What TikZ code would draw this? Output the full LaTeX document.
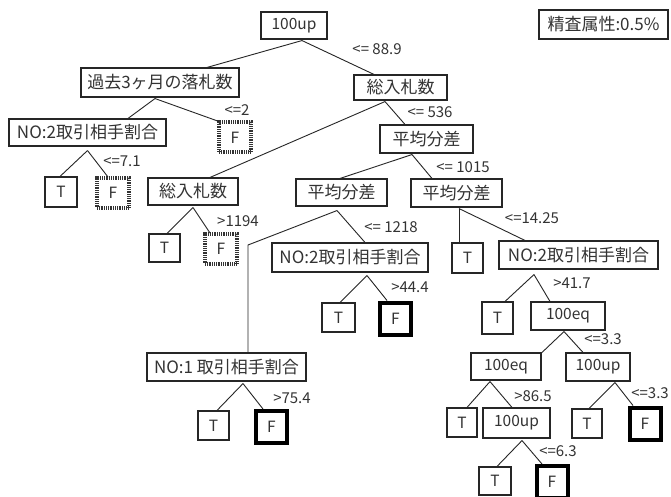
\documentclass[tikz,border=0pt]{standalone}
\usepackage{fontspec}
\setmainfont{Noto Sans CJK JP}
\begin{document}
\begin{tikzpicture}[x=1pt,y=-1pt,
  box/.style={draw=black!85, line width=1.1pt, inner sep=0pt, text=black!80,
    font=\fontsize{15.5}{16}\selectfont},
  cjk/.style={box, font=\fontsize{17}{17}\selectfont},
  fbold/.style={draw=black, line width=4pt, inner sep=0pt, text=black!80,
    font=\fontsize{15.5}{16}\selectfont, minimum width=31pt, minimum height=32pt},
  fhatch/.style={draw=black!80, line width=4pt, dash pattern=on 0.9pt off 0.9pt,
    inner sep=0pt, text=black!80, font=\fontsize{15.5}{16}\selectfont,
    minimum width=32pt, minimum height=30pt},
  edge/.style={draw=black!85, line width=0.9pt},
  lab/.style={inner sep=0pt, text=black!80, font=\fontsize{15}{15}\selectfont}]
\useasboundingbox[fill=white] (0,0) rectangle (671,497);

% nodes
\node[box, minimum width=66pt, minimum height=27pt] (root) at (294,25.5) {100up};
\node[cjk, minimum width=129pt, minimum height=29pt] (info) at (603.5,24.5) {精査属性:0.5\%};
\node[cjk, minimum width=158pt, minimum height=29pt] (A) at (160,82.5) {過去3ヶ月の落札数};
\node[cjk, minimum width=93pt, minimum height=25pt] (B) at (400.5,87.5) {総入札数};
\node[cjk, minimum width=157pt, minimum height=27pt] (A1) at (87.5,132.5) {NO:2取引相手割合};
\node[fhatch] (A2) at (235,137.5) {F};
\node[box, minimum width=32pt, minimum height=30pt] (A1a) at (61,192) {T};
\node[fhatch] (A1b) at (113,193) {F};
\node[cjk, minimum width=93pt, minimum height=28pt] (C) at (426.5,139) {平均分差};
\node[cjk, minimum width=90pt, minimum height=27pt] (D) at (193,191.5) {総入札数};
\node[box, minimum width=31pt, minimum height=28pt] (D1) at (164.5,248) {T};
\node[fhatch] (D2) at (221,249) {F};
\node[cjk, minimum width=91pt, minimum height=27pt] (E) at (341.5,192.5) {平均分差};
\node[cjk, minimum width=91pt, minimum height=28pt] (G) at (456.5,193) {平均分差};
\node[cjk, minimum width=156pt, minimum height=29pt] (E2) at (350,257.5) {NO:2取引相手割合};
\node[box, minimum width=33pt, minimum height=29pt] (E2a) at (338.5,317.5) {T};
\node[fbold] (E2b) at (395.5,318.5) {F};
\node[cjk, minimum width=159pt, minimum height=28pt] (E1) at (226.5,367) {NO:1 取引相手割合};
\node[box, minimum width=31pt, minimum height=29pt] (E1a) at (213.5,425.5) {T};
\node[fbold] (E1b) at (271.5,427) {F};
\node[box, minimum width=31pt, minimum height=30pt] (G1) at (467.5,258) {T};
\node[cjk, minimum width=159pt, minimum height=28pt] (G2) at (578.5,255) {NO:2取引相手割合};
\node[box, minimum width=31pt, minimum height=32pt] (G2a) at (497.5,318) {T};
\node[box, minimum width=74pt, minimum height=28pt] (G2b) at (568,316) {100eq};
\node[box, minimum width=70pt, minimum height=27pt] (H1) at (506,366.5) {100eq};
\node[box, minimum width=64pt, minimum height=28pt] (H2) at (598,367) {100up};
\node[box, minimum width=30pt, minimum height=29pt] (H1a) at (462,422.5) {T};
\node[box, minimum width=67pt, minimum height=30pt] (H1b) at (516.5,423) {100up};
\node[box, minimum width=30pt, minimum height=29pt] (H2a) at (587,423.5) {T};
\node[fbold] (H2b) at (645,423.5) {F};
\node[box, minimum width=32pt, minimum height=28pt] (I1) at (495,481) {T};
\node[fbold] (I2) at (552,482) {F};

% connectors
\draw[edge] ([xshift=8pt,yshift=-1pt]root.south) -- ([xshift=47pt]A.north);
\draw[edge] ([xshift=8pt,yshift=-1pt]root.south) -- ([xshift=-26.5pt]B.north);
\draw[edge] ([xshift=-5pt,yshift=-1pt]A.south) -- ([xshift=40.5pt]A1.north);
\draw[edge] ([xshift=-5pt,yshift=-1pt]A.south) -- ([xshift=2pt,yshift=-1pt]A2.north west);
\draw[edge] ([yshift=-4pt]A1.south) -- ([xshift=-1pt]A1a.north);
\draw[edge] ([yshift=-4pt]A1.south) -- ([xshift=-5pt,yshift=-1pt]A1b.north);
\draw[edge] ([xshift=-15.5pt,yshift=-1pt]B.south) -- ([xshift=17pt]D.north);
\draw[edge] ([xshift=-15.5pt,yshift=-1pt]B.south) -- ([xshift=-21.5pt]C.north);
\draw[edge] ([xshift=-14.5pt,yshift=-1pt]C.south) -- ([xshift=-1.5pt]E.north);
\draw[edge] ([xshift=-14.5pt,yshift=-1pt]C.south) -- ([xshift=-24.5pt]G.north);
\draw[edge] ([yshift=-2pt]D.south) -- ([xshift=2.5pt]D1.north);
\draw[edge] ([yshift=-2pt]D.south) -- ([xshift=-11pt,yshift=-1pt]D2.north);
\coordinate (Ebend) at (248,245);
\draw[edge] ([xshift=-4.5pt,yshift=-4pt]E.south) -- (Ebend) -- ([xshift=21.5pt]E1.north);
\draw[edge] ([xshift=-4.5pt,yshift=-4pt]E.south) -- ([xshift=15pt]E2.north);
\draw[edge] ([xshift=17pt,yshift=-3pt]E2.south) -- ([xshift=1.5pt]E2a.north);
\draw[edge] ([xshift=17pt,yshift=-3pt]E2.south) -- ([xshift=-8.5pt]E2b.north);
\draw[edge] ([xshift=16.5pt,yshift=-2pt]E1.south) -- ([xshift=3.5pt]E1a.north);
\draw[edge] ([xshift=16.5pt,yshift=-2pt]E1.south) -- ([xshift=-8.5pt]E1b.north);
\draw[edge] ([xshift=2.5pt,yshift=-1pt]G.south) -- ([xshift=-8.5pt]G1.north);
\draw[edge] ([xshift=2.5pt,yshift=-1pt]G.south) -- ([xshift=-53.5pt]G2.north);
\draw[edge] ([xshift=-44.5pt,yshift=-5pt]G2.south) -- ([xshift=7.5pt]G2a.north);
\draw[edge] ([xshift=-44.5pt,yshift=-5pt]G2.south) -- ([xshift=-18pt]G2b.north);
\draw[edge] ([xshift=-4pt,yshift=-1pt]G2b.south) -- ([xshift=36pt]H1.north);
\draw[edge] ([xshift=-4pt,yshift=-1pt]G2b.south) -- ([xshift=-15pt]H2.north);
\draw[edge] ([xshift=-16pt,yshift=-1pt]H1.south) -- ([xshift=5pt]H1a.north);
\draw[edge] ([xshift=-16pt,yshift=-1pt]H1.south) -- ([xshift=-4.5pt]H1b.north);
\draw[edge] ([xshift=17pt,yshift=-1pt]H2.south) -- ([xshift=2pt]H2a.north);
\draw[edge] ([xshift=17pt,yshift=-1pt]H2.south) -- ([xshift=-12pt]H2b.north);
\draw[edge] ([xshift=5.5pt,yshift=-2pt]H1b.south) -- ([xshift=2pt]I1.north);
\draw[edge] ([xshift=5.5pt,yshift=-2pt]H1b.south) -- ([xshift=-10pt]I2.north);

% labels
\node[lab] (l1) at (377,49) {<= 88.9};
\node[lab] (l2) at (237,110) {<=2};
\node[lab] (l3) at (122,161) {<=7.1};
\node[lab] (l4) at (430,112) {<= 536};
\node[lab] (l5) at (463,167) {<= 1015};
\node[lab] (l6) at (238,221) {>1194};
\node[lab] (l7) at (391,227) {<= 1218};
\node[lab] (l8) at (410,287) {>44.4};
\node[lab] (l9) at (292,398) {>75.4};
\node[lab] (l10) at (532,218) {<=14.25};
\node[lab] (l11) at (572,283) {>41.7};
\node[lab] (l12) at (603,339) {<=3.3};
\node[lab] (l13) at (533,396) {>86.5};
\node[lab] (l14) at (650,393) {<=3.3};
\node[lab] (l15) at (558,451) {<=6.3};
\end{tikzpicture}
\end{document}
